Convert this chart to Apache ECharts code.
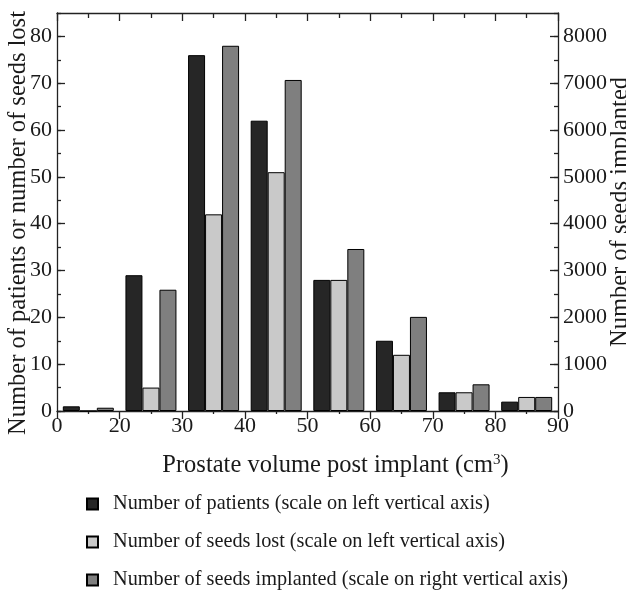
<!DOCTYPE html>
<html><head><meta charset="utf-8">
<script src="https://cdn.jsdelivr.net/npm/echarts@6/dist/echarts.min.js"></script>
<style>html,body{margin:0;padding:0;background:#fff}#c{width:626px;height:593px}</style>
</head><body><div id="c"></div>
<script>
const bins = ['0-20','20-30','30-40','40-50','50-60','60-70','70-80','80-90'];
const edgeLabels = ['0','20','30','40','50','60','70','80','90'];
const patients = [1, 29, 76, 62, 28, 15, 4, 2];
const seedsLost = [0, 5, 42, 51, 28, 12, 4, 3];
const seedsImplanted = [70, 2590, 7800, 7070, 3460, 2010, 570, 300];
const legendNames = ['Number of patients (scale on left vertical axis)',
                     'Number of seeds lost (scale on left vertical axis)',
                     'Number of seeds implanted (scale on right vertical axis)'];

const FONT = 'Liberation Serif';
const TXT = '#1a1a1a';
const LINE = '#222';
const chart = echarts.init(document.getElementById('c'));
const ls = () => ({color: LINE, width: 1.3});
const axLine = () => ({show: true, onZero: false, lineStyle: ls()});
chart.setOption({
  animation: false,
  backgroundColor: '#fff',
  textStyle: {fontFamily: FONT, color: TXT},
  grid: {left: 57, right: 68, top: 13, bottom: 182, outerBoundsMode: 'none', containLabel: false},
  legend: {
    orient: 'vertical', left: 81, top: 488, height: 140, itemWidth: 11, itemHeight: 11, itemGap: 16,
    icon: 'rect',
    textStyle: {fontFamily: FONT, fontSize: 20.3, color: TXT, lineHeight: 22, padding: [0, 0, 0, 10]},
    data: legendNames
  },
  xAxis: [
    {type: 'category', data: bins, show: false, boundaryGap: true},
    {type: 'value', position: 'bottom', min: 0, max: 8, interval: 1,
     axisLine: axLine(),
     axisTick: {show: true, inside: false, length: 8, lineStyle: ls()},
     minorTick: {show: true, splitNumber: 2, length: 3, lineStyle: ls()},
     splitLine: {show: false},
     axisLabel: {fontFamily: FONT, fontSize: 22, color: TXT, margin: 4, formatter: v => edgeLabels[v]},
     name: 'Prostate volume post implant (cm{sup|3})', nameLocation: 'middle', nameGap: 42,
     nameMoveOverlap: false,
     nameTextStyle: {fontFamily: FONT, fontSize: 24.5, color: TXT, padding: [0, 0, 0, 56],
       rich: {sup: {fontFamily: FONT, fontSize: 15, verticalAlign: 'top', padding: [0,0,10,0], color: TXT}}}
    },
    {type: 'value', position: 'top', min: 0, max: 8, interval: 1,
     axisLine: axLine(),
     axisTick: {show: true, inside: true, length: 8, lineStyle: ls()},
     minorTick: {show: true, splitNumber: 2, length: 5, lineStyle: ls()},
     splitLine: {show: false}, axisLabel: {show: false}}
  ],
  yAxis: [
    {type: 'value', position: 'left', min: 0, max: 85, interval: 10,
     axisLine: axLine(),
     axisTick: {show: true, inside: true, length: 8, lineStyle: ls()},
     splitLine: {show: false},
     axisLabel: {fontFamily: FONT, fontSize: 22, color: TXT, margin: 5, showMaxLabel: false, formatter: v => String(v)},
     name: 'Number of patients or number of seeds lost', nameLocation: 'middle', nameGap: 26,
     nameMoveOverlap: false,
     nameTextStyle: {fontFamily: FONT, fontSize: 24.5, color: TXT, padding: [0, 22, 0, 0]}},
    {type: 'value', position: 'right', min: 0, max: 8500, interval: 1000,
     axisLine: axLine(),
     axisTick: {show: true, inside: true, length: 8, lineStyle: ls()},
     splitLine: {show: false},
     axisLabel: {fontFamily: FONT, fontSize: 22, color: TXT, margin: 5, showMaxLabel: false, formatter: v => String(v)},
     name: 'Number of seeds implanted', nameLocation: 'middle', nameGap: 50,
     nameMoveOverlap: false,
     nameTextStyle: {fontFamily: FONT, fontSize: 24.5, color: TXT}},
    {type: 'value', position: 'left', min: 0, max: 85, interval: 5,
     axisLine: {show: false, onZero: false}, axisTick: {show: true, inside: true, length: 4, lineStyle: ls()},
     splitLine: {show: false}, axisLabel: {show: false}},
    {type: 'value', position: 'right', min: 0, max: 8500, interval: 500,
     axisLine: {show: false, onZero: false}, axisTick: {show: true, inside: true, length: 4, lineStyle: ls()},
     splitLine: {show: false}, axisLabel: {show: false}}
  ],
  series: [
    {name: legendNames[0], type: 'bar', xAxisIndex: 0, yAxisIndex: 0,
     data: patients, barWidth: 17, barGap: '0%',
     itemStyle: {color: '#262626', borderColor: '#000', borderWidth: 1}},
    {name: legendNames[1], type: 'bar', xAxisIndex: 0, yAxisIndex: 0,
     data: seedsLost, barWidth: 17, barGap: '0%',
     itemStyle: {color: '#c9c9c9', borderColor: '#000', borderWidth: 1}},
    {name: legendNames[2], type: 'bar', xAxisIndex: 0, yAxisIndex: 1,
     data: seedsImplanted, barWidth: 17, barGap: '0%',
     itemStyle: {color: '#7f7f7f', borderColor: '#000', borderWidth: 1}}
  ]
});
</script></body></html>
